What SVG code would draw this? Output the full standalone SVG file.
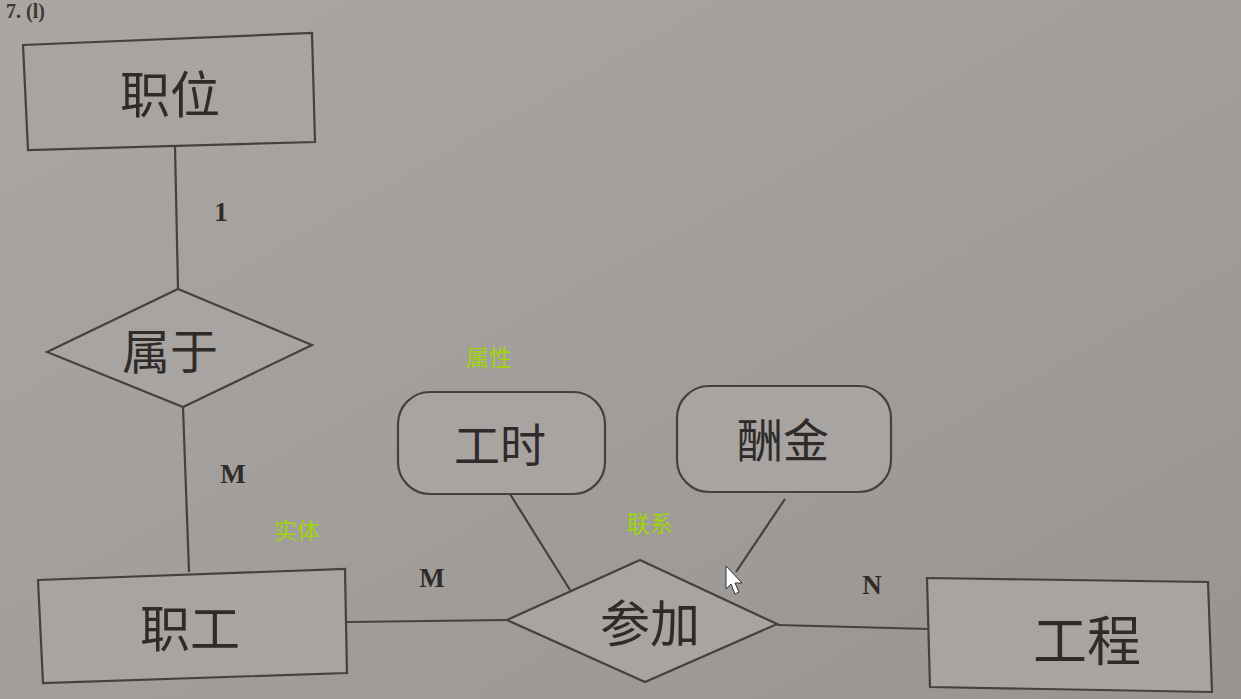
<svg xmlns="http://www.w3.org/2000/svg" width="1241" height="699" viewBox="0 0 1241 699">
<defs>
<linearGradient id="bg" x1="0" y1="0" x2="1" y2="1">
<stop offset="0" stop-color="#a9a6a3"/>
<stop offset="0.5" stop-color="#a19e9b"/>
<stop offset="1" stop-color="#989491"/>
</linearGradient>
<style>
.sh{fill:#a7a4a1;stroke:#454140;stroke-width:2.2}
.ln{fill:none;stroke:#454140;stroke-width:2.2}
.cj{font-family:"Noto Sans CJK SC","Noto Sans",sans-serif;fill:#2e2b2a;text-anchor:middle;dominant-baseline:central}
.lb{font-family:"Liberation Serif",serif;font-weight:bold;fill:#2e2b2a;text-anchor:middle;dominant-baseline:central;font-size:27px}
.gr{font-family:"Noto Sans CJK SC","Noto Sans",sans-serif;fill:#a2d40a;text-anchor:middle;dominant-baseline:central;font-size:23px}
</style>
</defs>
<rect width="1241" height="699" fill="url(#bg)"/>
<text x="6" y="18" font-family="Liberation Serif, serif" font-weight="bold" font-size="20" fill="#3a3736">7. (l)</text>

<g id="connectors">
<line class="ln" x1="175" y1="146" x2="178" y2="289"/>
<line class="ln" x1="183" y1="407" x2="189" y2="572"/>
<line class="ln" x1="347" y1="622" x2="507" y2="620"/>
<line class="ln" x1="777" y1="625" x2="929" y2="629"/>
<line class="ln" x1="510" y1="494" x2="570" y2="590"/>
<line class="ln" x1="785" y1="499" x2="736" y2="572"/>
</g>

<g id="zhiwei">
<polygon class="sh" points="23,45 312,33 315,142 28,150"/>
<text class="cj" x="170" y="91" font-size="50">职位</text>
</g>
<g id="shuyu">
<polygon class="sh" points="47,352 178,289 312,345 183,407"/>
<text class="cj" x="170" y="348" font-size="48">属于</text>
</g>
<g id="zhigong">
<polygon class="sh" points="38,580 345,569 347,673 43,683"/>
<text class="cj" x="190" y="625" font-size="50">职工</text>
</g>
<g id="canjia">
<polygon class="sh" points="507,620 640,560 777,624 645,682"/>
<text class="cj" x="650" y="620" font-size="50">参加</text>
</g>
<g id="gongcheng">
<polygon class="sh" points="927,578 1208,582 1212,692 930,687"/>
<text class="cj" x="1087" y="637" font-size="54">工程</text>
</g>
<g id="gongshi">
<rect class="sh" x="398" y="392" width="207" height="102" rx="32"/>
<text class="cj" x="500" y="442" font-size="46">工时</text>
</g>
<g id="choujin">
<rect class="sh" x="677" y="386" width="214" height="106" rx="32"/>
<text class="cj" x="783" y="437" font-size="46">酬金</text>
</g>

<g id="labels">
<text class="lb" x="221" y="212">1</text>
<text class="lb" x="233" y="474">M</text>
<text class="lb" x="432" y="578">M</text>
<text class="lb" x="872" y="585">N</text>
<text class="gr" x="489" y="356">属性</text>
<text class="gr" x="650" y="522">联系</text>
<text class="gr" x="297" y="529">实体</text>
</g>

<g id="cursor">
<polygon points="726,566 726,589 731,584 735,594 739,592 735,583 742,583" fill="#ffffff" stroke="#333" stroke-width="1"/>
</g>
</svg>
